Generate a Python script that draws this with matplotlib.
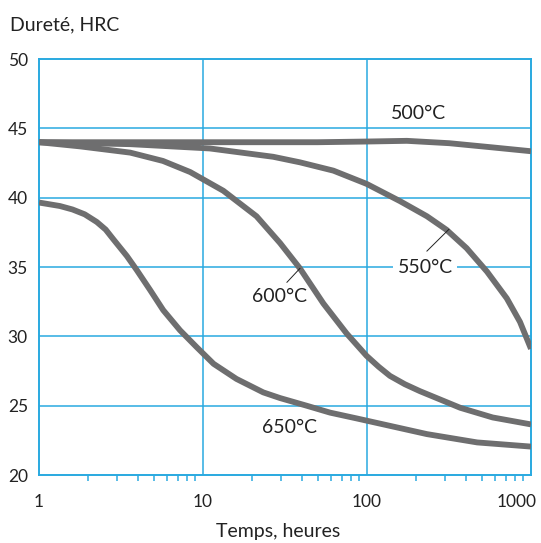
import numpy as np
import matplotlib
matplotlib.use("Agg")
import matplotlib.pyplot as plt
from matplotlib.ticker import LogLocator, NullFormatter
from matplotlib.transforms import ScaledTranslation

plt.rcParams['font.family'] = ['Lato', 'DejaVu Sans']

# hardness (HRC) vs tempering time (hours)
t_500 = [1, 10, 50, 100, 175, 317, 590, 1000]
h_500 = [44.0, 44.0, 44.0, 44.05, 44.1, 43.93, 43.62, 43.35]

t_550 = [1, 3.6, 11, 26.8, 39, 62.4, 99.3, 159, 232, 305, 405, 539, 712, 857, 1000]
h_550 = [44.0, 43.86, 43.55, 42.95, 42.55, 41.95, 41.0, 39.75, 38.66, 37.69, 36.36,
         34.67, 32.74, 31.04, 29.1]

t_600 = [1, 1.78, 3.6, 5.7, 8.35, 13.3, 21.2, 29.5, 39, 54.2, 75.2, 99.3, 118, 138, 170, 210,
         370, 584, 1000]
h_600 = [44.0, 43.7, 43.25, 42.65, 41.85, 40.5, 38.66, 36.73, 34.9, 32.37, 30.2, 28.6,
         27.8, 27.15, 26.55, 26.05, 24.85, 24.15, 23.65]

t_650 = [1, 1.34, 1.6, 1.9, 2.25, 2.55, 2.84, 3.43, 3.94, 4.76, 5.72, 7.24, 9.15, 11.6, 16.0,
         23.3, 29.5, 42.8, 59.5, 86.6, 232, 470, 1000]
h_650 = [39.65, 39.4, 39.15, 38.8, 38.25, 37.7, 37.0, 35.8, 34.79, 33.34, 31.89, 30.44,
         29.22, 28.02, 26.93, 25.96, 25.55, 25.0, 24.5, 24.08, 22.95, 22.35, 22.05]

yticks = [20, 25, 30, 35, 40, 45, 50]
xticks = [1, 10, 100, 1000]
xtick_labels = ["1", "10", "100", "1000"]

blue = "#29a9e0"
grey = "#6e6e6f"
ink = "#222222"

fig = plt.figure(figsize=(5.41, 5.43), dpi=100)
ax = fig.add_axes([0.0721, 0.1252, 0.9094, 0.7661])

ax.set_xscale("log")
ax.set_xlim(1, 1000)
ax.set_ylim(20, 50)

for t, h in [(t_500, h_500), (t_550, h_550), (t_600, h_600), (t_650, h_650)]:
    ax.plot(t, h, color=grey, lw=4.2, solid_capstyle="butt", solid_joinstyle="round", zorder=3)

# grid
for y in yticks[1:-1]:
    ax.axhline(y, color=blue, lw=1.1, zorder=1)
for x in xticks[1:-1]:
    ax.axvline(x, color=blue, lw=1.1, zorder=1)

for s in ax.spines.values():
    s.set_color(blue)
    s.set_linewidth(1.4)

ax.set_yticks(yticks)
ax.set_yticklabels([str(v) for v in yticks])
ax.set_xticks(xticks)
ax.set_xticklabels(xtick_labels)
ax.tick_params(axis="both", which="major", length=0, labelsize=12.5, colors=ink)
ax.tick_params(axis="y", pad=8)
ax.tick_params(axis="x", pad=14)
ax.xaxis.set_minor_locator(LogLocator(base=10, subs=np.arange(2, 10)))
ax.xaxis.set_minor_formatter(NullFormatter())
ax.tick_params(axis="x", which="minor", length=4, width=1.1, color=blue, direction="out")

last = ax.get_xticklabels()[-1]
last.set_transform(last.get_transform() + ScaledTranslation(-14 / 100, 0, fig.dpi_scale_trans))

# curve labels
ax.text(205, 46.05, "500°C", fontsize=14, ha="center", va="center", color=ink)
ax.text(226, 35.0, "550°C", fontsize=14, ha="center", va="center", color=ink,
        bbox=dict(facecolor="white", edgecolor="none", pad=3), zorder=2)
ax.plot([232, 316], [36.15, 37.72], color=ink, lw=0.7, zorder=4)
ax.text(29.1, 32.9, "600°C", fontsize=14, ha="center", va="center", color=ink)
ax.plot([32.5, 39], [33.9, 34.9], color=ink, lw=0.7, zorder=4)
ax.text(33.9, 23.4, "650°C", fontsize=14, ha="center", va="center", color=ink)

fig.text(10 / 541, 1 - 25 / 543, "Dureté, HRC", fontsize=14, ha="left", va="center", color=ink)
fig.text(278 / 541, 1 - 532 / 543, "Temps, heures", fontsize=14, ha="center", va="center", color=ink)

fig.savefig("out.png", dpi=100)
